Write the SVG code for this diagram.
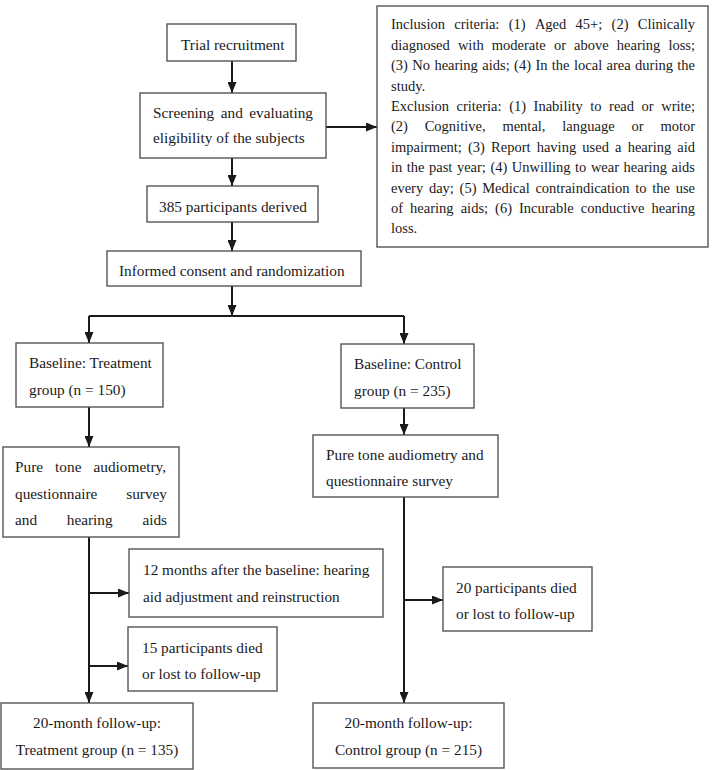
<svg xmlns="http://www.w3.org/2000/svg" width="712" height="770" viewBox="0 0 712 770">
<style>
.box{fill:#fff;stroke:#555;stroke-width:1.4}
.t{font-family:"Liberation Serif","Times New Roman",serif;font-size:15.3px;fill:#1a1a1a}
.s{font-family:"Liberation Serif","Times New Roman",serif;font-size:14.5px;fill:#1a1a1a}
.c{text-anchor:middle}
.ln{fill:none;stroke:#1a1a1a;stroke-width:2}
</style>
<defs>
<marker id="ah" markerUnits="userSpaceOnUse" markerWidth="11" markerHeight="9" refX="11" refY="4.5" orient="auto">
<path d="M0,0 L11,4.5 L0,9 Z" fill="#1a1a1a"/>
</marker>
</defs>
<rect width="712" height="770" fill="#fff"/>
<g id="connectors">
<path class="ln" d="M232,61 V93" marker-end="url(#ah)"/>
<path class="ln" d="M326,127 H377" marker-end="url(#ah)"/>
<path class="ln" d="M232,158 V186" marker-end="url(#ah)"/>
<path class="ln" d="M232,222 V251" marker-end="url(#ah)"/>
<path class="ln" d="M232,286 V316" marker-end="url(#ah)"/>
<path class="ln" d="M89,316 H404"/>
<path class="ln" d="M89,316 V343" marker-end="url(#ah)"/>
<path class="ln" d="M404,316 V344" marker-end="url(#ah)"/>
<path class="ln" d="M89,407 V447" marker-end="url(#ah)"/>
<path class="ln" d="M404,408 V435" marker-end="url(#ah)"/>
<path class="ln" d="M89,537 V703" marker-end="url(#ah)"/>
<path class="ln" d="M89,593 H129" marker-end="url(#ah)"/>
<path class="ln" d="M89,666 H128" marker-end="url(#ah)"/>
<path class="ln" d="M404,497 V703" marker-end="url(#ah)"/>
<path class="ln" d="M404,600 H443" marker-end="url(#ah)"/>
</g>
<g id="trial">
<rect class="box" x="167" y="24" width="129" height="37"/>
<text class="t" x="181" y="50">Trial recruitment</text>
</g>
<g id="screening">
<rect class="box" x="140" y="93" width="186" height="65"/>
<text class="t" y="118"><tspan x="153">Screening</tspan><tspan x="220.7">and</tspan><tspan x="249.3">evaluating</tspan></text>
<text class="t" x="153" y="143">eligibility of the subjects</text>
</g>
<g id="criteria">
<rect class="box" x="377" y="6" width="331" height="241"/>
<text class="s" y="29.3"><tspan x="391">Inclusion</tspan><tspan x="454.3">criteria:</tspan><tspan x="508.7">(1)</tspan><tspan x="534.9">Aged</tspan><tspan x="575.6">45+;</tspan><tspan x="611.6">(2)</tspan><tspan x="637.8">Clinically</tspan></text>
<text class="s" y="49.7"><tspan x="391">diagnosed</tspan><tspan x="457.9">with</tspan><tspan x="491.8">moderate</tspan><tspan x="553.9">or</tspan><tspan x="574.1">above</tspan><tspan x="616.8">hearing</tspan><tspan x="668.4">loss;</tspan></text>
<text class="s" y="70.1"><tspan x="391">(3)</tspan><tspan x="412.3">No</tspan><tspan x="434.4">hearing</tspan><tspan x="482.3">aids;</tspan><tspan x="514.1">(4)</tspan><tspan x="535.4">In</tspan><tspan x="551.8">the</tspan><tspan x="574">local</tspan><tspan x="606.5">area</tspan><tspan x="635.1">during</tspan><tspan x="677.3">the</tspan></text>
<text class="s" x="391" y="90.5">study.</text>
<text class="s" y="110.9"><tspan x="391">Exclusion</tspan><tspan x="456.5">criteria:</tspan><tspan x="509.2">(1)</tspan><tspan x="533.6">Inability</tspan><tspan x="590.3">to</tspan><tspan x="609.1">read</tspan><tspan x="641.6">or</tspan><tspan x="661.2">write;</tspan></text>
<text class="s" y="131.3"><tspan x="391">(2)</tspan><tspan x="424.7">Cognitive,</tspan><tspan x="502.4">mental,</tspan><tspan x="562.3">language</tspan><tspan x="631.5">or</tspan><tspan x="660.4">motor</tspan></text>
<text class="s" y="151.7"><tspan x="391">impairment;</tspan><tspan x="468">(3)</tspan><tspan x="491.1">Report</tspan><tspan x="536.7">having</tspan><tspan x="582.3">used</tspan><tspan x="615.1">a</tspan><tspan x="627.7">hearing</tspan><tspan x="677.3">aid</tspan></text>
<text class="s" y="172.1"><tspan x="391">in</tspan><tspan x="406.8">the</tspan><tspan x="429">past</tspan><tspan x="456.9">year;</tspan><tspan x="490.4">(4)</tspan><tspan x="511.8">Unwilling</tspan><tspan x="575.1">to</tspan><tspan x="590.9">wear</tspan><tspan x="623.6">hearing</tspan><tspan x="671.6">aids</tspan></text>
<text class="s" y="192.5"><tspan x="391">every</tspan><tspan x="428.9">day;</tspan><tspan x="459.6">(5)</tspan><tspan x="482.2">Medical</tspan><tspan x="535.4">contraindication</tspan><tspan x="635.3">to</tspan><tspan x="652.3">the</tspan><tspan x="675.7">use</tspan></text>
<text class="s" y="212.9"><tspan x="391">of</tspan><tspan x="410.1">hearing</tspan><tspan x="460.7">aids;</tspan><tspan x="495.1">(6)</tspan><tspan x="519">Incurable</tspan><tspan x="580.8">conductive</tspan><tspan x="651.5">hearing</tspan></text>
<text class="s" x="391" y="233.3">loss.</text>
</g>
<g id="derived">
<rect class="box" x="147" y="186" width="171" height="36"/>
<text class="t" x="159" y="212">385 participants derived</text>
</g>
<g id="consent">
<rect class="box" x="107" y="251" width="254" height="35"/>
<text class="t" x="119" y="276">Informed consent and randomization</text>
</g>
<g id="baseline-treatment">
<rect class="box" x="16" y="343" width="147" height="64"/>
<text class="t" x="29" y="368">Baseline: Treatment</text>
<text class="t" x="29" y="395">group (n = 150)</text>
</g>
<g id="baseline-control">
<rect class="box" x="341" y="344" width="133" height="64"/>
<text class="t" x="354" y="369">Baseline: Control</text>
<text class="t" x="354" y="396">group (n = 235)</text>
</g>
<g id="pure-treatment">
<rect class="box" x="3" y="447" width="176" height="90"/>
<text class="t" y="472"><tspan x="15">Pure</tspan><tspan x="55.1">tone</tspan><tspan x="93.5">audiometry,</tspan></text>
<text class="t" y="499"><tspan x="15">questionnaire</tspan><tspan x="126.2">survey</tspan></text>
<text class="t" y="525"><tspan x="15">and</tspan><tspan x="66.8">hearing</tspan><tspan x="142.4">aids</tspan></text>
</g>
<g id="pure-control">
<rect class="box" x="313" y="435" width="185" height="62"/>
<text class="t" x="326" y="460">Pure tone audiometry and</text>
<text class="t" x="326" y="486">questionnaire survey</text>
</g>
<g id="month12">
<rect class="box" x="129" y="549" width="254" height="68"/>
<text class="t" x="143" y="575">12 months after the baseline: hearing</text>
<text class="t" x="143" y="602">aid adjustment and reinstruction</text>
</g>
<g id="lost15">
<rect class="box" x="128" y="627" width="149" height="64"/>
<text class="t" x="142" y="653">15 participants died</text>
<text class="t" x="142" y="679">or lost to follow-up</text>
</g>
<g id="lost20">
<rect class="box" x="443" y="567" width="149" height="64"/>
<text class="t" x="456" y="593">20 participants died</text>
<text class="t" x="456" y="619">or lost to follow-up</text>
</g>
<g id="followup-treatment">
<rect class="box" x="1" y="703" width="192" height="66"/>
<text class="t c" x="97" y="728">20-month follow-up:</text>
<text class="t c" x="97" y="755">Treatment group (n = 135)</text>
</g>
<g id="followup-control">
<rect class="box" x="313" y="703" width="191" height="65"/>
<text class="t c" x="408.5" y="728">20-month follow-up:</text>
<text class="t c" x="408.5" y="755">Control group (n = 215)</text>
</g>
</svg>
